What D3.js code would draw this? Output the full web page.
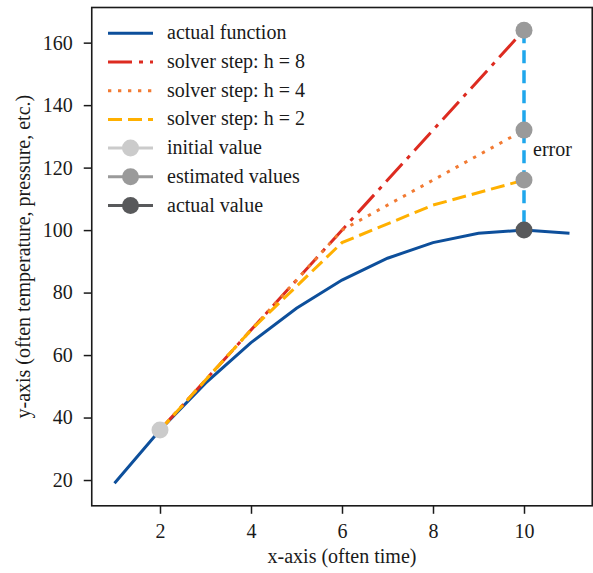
<!DOCTYPE html>
<html>
<head>
<meta charset="utf-8">
<script src="https://cdn.jsdelivr.net/npm/d3@7"></script>
<style>
  body { margin: 0; background: #fff; }
  svg { display: block; font-family: "Liberation Serif", "DejaVu Serif", serif; }
</style>
</head>
<body>
<svg width="593" height="573"></svg>
<script>
// data
var actualX = [1, 2, 3, 4, 5, 6, 7, 8, 9, 10, 11];
var actualY = [19, 36, 51, 64, 75, 84, 91, 96, 99, 100, 99];
var h8X = [2, 10];
var h8Y = [36, 164];
var h4X = [2, 6, 10];
var h4Y = [36, 100, 132];
var h2X = [2, 4, 6, 8, 10];
var h2Y = [36, 68, 96, 108, 116];
var initialPoint = [2, 36];
var estimatedX = [10, 10, 10];
var estimatedY = [164, 132, 116];
var actualPoint = [10, 100];
var xTicks = [2, 4, 6, 8, 10];
var yTicks = [20, 40, 60, 80, 100, 120, 140, 160];
var legendLabels = ["actual function", "solver step: h = 8", "solver step: h = 4",
  "solver step: h = 2", "initial value", "estimated values", "actual value"];

var colors = {
  actual: "#0d4f9b",
  h8: "#dd2b20",
  h4: "#f27a32",
  h2: "#ffb000",
  error: "#1fa7ec",
  initial: "#cbcbcb",
  estimated: "#9a9a9a",
  actualVal: "#58595b"
};

var svg = d3.select("svg");

let margin = { top: 7.5, right: 0.75, bottom: 67.2, left: 91.75 };
let width = 593, height = 573;
let plotWidth = width - margin.left - margin.right;
let plotHeight = height - margin.top - margin.bottom;

let x = d3.scaleLinear().domain([0.5, 11.5]).range([0, plotWidth]);
let y = d3.scaleLinear().domain([11.75, 171.25]).range([plotHeight, 0]);

let plot = svg.append("g")
  .attr("id", "plot")
  .attr("transform", "translate(" + margin.left + "," + margin.top + ")");

// axes
let xAxis = d3.axisBottom(x).tickValues(xTicks).tickSize(8).tickPadding(10).tickFormat(d3.format("d"));
let yAxis = d3.axisLeft(y).tickValues(yTicks).tickSize(8).tickPadding(11).tickFormat(d3.format("d"));

let xGroup = plot.append("g").attr("transform", "translate(0," + plotHeight + ")").call(xAxis);
let yGroup = plot.append("g").call(yAxis);
[xGroup, yGroup].forEach(function(g) {
  g.select(".domain").remove();
  g.selectAll(".tick line").attr("stroke", "#1a1a1a").attr("stroke-width", 1.5);
  g.selectAll(".tick text").attr("fill", "#1a1a1a").style("font-size", "20px")
    .style("font-family", "Liberation Serif, serif");
});

let line = d3.line()
  .x(function(d) { return x(d[0]); })
  .y(function(d) { return y(d[1]); });

function zipXY(xs, ys) {
  return xs.map(function(v, i) { return [v, ys[i]]; });
}

// actual function
plot.append("path")
  .datum(zipXY(actualX, actualY))
  .attr("d", line)
  .attr("fill", "none")
  .attr("stroke", colors.actual)
  .attr("stroke-width", 3);

// solver steps
plot.append("path")
  .datum(zipXY(h8X, h8Y))
  .attr("d", line)
  .attr("fill", "none")
  .attr("stroke", colors.h8)
  .attr("stroke-width", 3)
  .attr("stroke-dasharray", "24,7,4,7");

plot.append("path")
  .datum(zipXY(h4X, h4Y))
  .attr("d", line)
  .attr("fill", "none")
  .attr("stroke", colors.h4)
  .attr("stroke-width", 3)
  .attr("stroke-dasharray", "3.3,6.7");

plot.append("path")
  .datum(zipXY(h2X, h2Y))
  .attr("d", line)
  .attr("fill", "none")
  .attr("stroke", colors.h2)
  .attr("stroke-width", 3)
  .attr("stroke-dasharray", "14,6");

// error line
plot.append("path")
  .datum([[actualPoint[0], d3.max(estimatedY)], actualPoint])
  .attr("d", line)
  .attr("fill", "none")
  .attr("stroke", colors.error)
  .attr("stroke-width", 3.5)
  .attr("stroke-dasharray", "13,7");

plot.append("text")
  .attr("x", x(actualPoint[0]) + 9)
  .attr("y", y(132) + 26)
  .style("font-size", "20px")
  .attr("fill", "#1a1a1a")
  .text("error");

// markers
plot.append("circle")
  .attr("cx", x(initialPoint[0])).attr("cy", y(initialPoint[1]))
  .attr("r", 8.5).attr("fill", colors.initial);

plot.selectAll("circle.est")
  .data(zipXY(estimatedX, estimatedY))
  .enter()
  .append("circle")
  .attr("class", "est")
  .attr("cx", function(d) { return x(d[0]); })
  .attr("cy", function(d) { return y(d[1]); })
  .attr("r", 8.5)
  .attr("fill", colors.estimated);

plot.append("circle")
  .attr("cx", x(actualPoint[0])).attr("cy", y(actualPoint[1]))
  .attr("r", 8.5).attr("fill", colors.actualVal);

// frame
plot.append("rect")
  .attr("width", plotWidth)
  .attr("height", plotHeight)
  .attr("fill", "none")
  .attr("stroke", "#1a1a1a")
  .attr("stroke-width", 1.6);

// legend
let legendStyles = [
  { color: colors.actual, dash: null, marker: false },
  { color: colors.h8, dash: "24,7,4,7", marker: false },
  { color: colors.h4, dash: "3.3,6.7", marker: false },
  { color: colors.h2, dash: "14,6", marker: false },
  { color: colors.initial, dash: null, marker: true },
  { color: colors.estimated, dash: null, marker: true },
  { color: colors.actualVal, dash: null, marker: true }
];

let legend = svg.append("g").attr("id", "legend");
legendLabels.forEach(function(label, i) {
  let ly = 33.3 + i * 28.7;
  let st = legendStyles[i];
  legend.append("line")
    .attr("x1", 108).attr("x2", 153)
    .attr("y1", ly).attr("y2", ly)
    .attr("stroke", st.color)
    .attr("stroke-width", 3)
    .attr("stroke-dasharray", st.dash);
  if (st.marker) {
    legend.append("circle")
      .attr("cx", 130.5).attr("cy", ly).attr("r", 8.5).attr("fill", st.color);
  }
  legend.append("text")
    .attr("x", 167)
    .attr("y", ly + 6)
    .style("font-size", "20px")
    .attr("fill", "#1a1a1a")
    .text(label);
});

// axis titles
svg.append("text")
  .attr("x", margin.left + x(6))
  .attr("y", 563)
  .style("text-anchor", "middle")
  .style("font-size", "20px")
  .attr("fill", "#1a1a1a")
  .text("x-axis (often time)");

svg.append("text")
  .attr("transform", "translate(30," + (margin.top + plotHeight / 2) + ") rotate(-90)")
  .style("text-anchor", "middle")
  .style("font-size", "20px")
  .attr("fill", "#1a1a1a")
  .text("y-axis (often temperature, pressure, etc.)");
</script>
</body>
</html>
